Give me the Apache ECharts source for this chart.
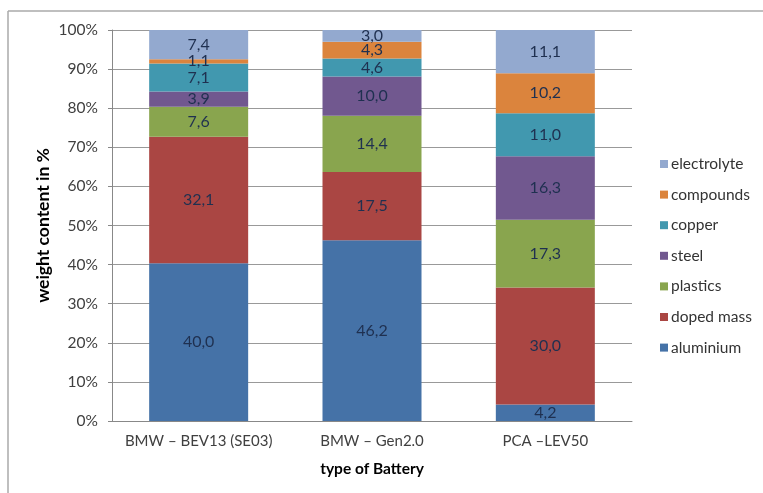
<!DOCTYPE html>
<html><head><meta charset="utf-8">
<script src="https://cdn.jsdelivr.net/npm/echarts@6/dist/echarts.min.js"></script>
<style>html,body{margin:0;padding:0;background:#fff}#c{width:763px;height:493px}</style>
</head><body><div id="c"></div>
<script>
const categories = ['BMW – BEV13 (SE03)', 'BMW – Gen2.0', 'PCA –LEV50'];
const seriesNames = ['aluminium', 'doped mass', 'plastics', 'steel', 'copper', 'compounds', 'electrolyte'];
const aluminium = [40.0, 46.2, 4.2];
const dopedMass = [32.1, 17.5, 30.0];
const plastics = [7.6, 14.4, 17.3];
const steel = [3.9, 10.0, 16.3];
const copper = [7.1, 4.6, 11.0];
const compounds = [1.1, 4.3, 10.2];
const electrolyte = [7.4, 3.0, 11.1];
const yTicks = [0, 10, 20, 30, 40, 50, 60, 70, 80, 90, 100];

const colors = ['#4572A7', '#AA4643', '#89A54E', '#71588F', '#4198AF', '#DB843D', '#93A9CF'];
const values = [aluminium, dopedMass, plastics, steel, copper, compounds, electrolyte];
const totals = categories.map((_, i) => values.reduce((s, arr) => s + arr[i], 0));
const font = 'Lato, "Open Sans", sans-serif';

const series = seriesNames.map((name, k) => ({
  name, type: 'bar', stack: 'total', barWidth: 99,
  itemStyle: { color: colors[k] },
  label: {
    show: true, position: 'inside', color: '#1F3050', fontFamily: font, fontSize: 16,
    formatter: p => values[k][p.dataIndex].toFixed(1).replace('.', ',')
  },
  data: values[k].map((v, i) => v / totals[i] * 100)
}));

const chart = echarts.init(document.getElementById('c'));
chart.setOption({
  animation: false,
  color: colors,
  grid: { left: 112, right: 131, top: 30, bottom: 72 },
  legend: {
    orient: 'vertical', left: 655, top: 151,
    data: seriesNames.slice().reverse(),
    icon: 'rect', itemWidth: 8, itemHeight: 8, itemGap: 14.6,
    textStyle: { fontFamily: font, fontSize: 15.5, color: '#333', lineHeight: 16, padding: [0, 0, 0, -2] }
  },
  xAxis: {
    type: 'category', data: categories,
    axisLine: { lineStyle: { color: '#888', width: 1 } },
    axisTick: { show: false },
    axisLabel: { interval: 0, hideOverlap: false, fontFamily: font, fontSize: 15, color: '#404040', margin: 13 },
    name: 'type of Battery', nameLocation: 'middle', nameGap: 40, nameMoveOverlap: false,
    nameTextStyle: { fontFamily: font, fontSize: 15.5, fontWeight: 'bold', color: '#000' }
  },
  yAxis: {
    type: 'value', min: yTicks[0], max: yTicks[yTicks.length - 1], interval: 10,
    axisLine: { show: true, lineStyle: { color: '#888', width: 1 } },
    axisTick: { show: true, length: 4, lineStyle: { color: '#888' } },
    splitLine: { lineStyle: { color: '#999', width: 1 } },
    axisLabel: { fontFamily: font, fontSize: 15.5, color: '#404040', formatter: '{value}%', margin: 14 },
    name: 'weight content in %', nameLocation: 'middle', nameGap: 60, nameMoveOverlap: false,
    nameTextStyle: { fontFamily: font, fontSize: 17.5, fontWeight: 'bold', color: '#000' }
  },
  graphic: [
    { type: 'line', shape: { x1: 8, y1: 11, x2: 763, y2: 11 }, style: { stroke: '#aaa', lineWidth: 1.5 } },
    { type: 'line', shape: { x1: 8, y1: 11, x2: 8, y2: 493 }, style: { stroke: '#aaa', lineWidth: 1.5 } }
  ],
  series
});
</script></body></html>
